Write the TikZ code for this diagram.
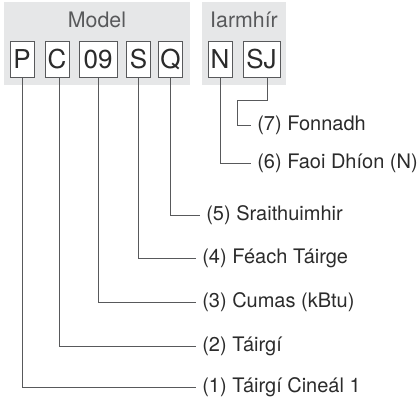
\documentclass[tikz,border=0pt]{standalone}
\usepackage{fontspec}
\setmainfont{TeX Gyre Heros}
\definecolor{panel}{HTML}{E6E7E8}
\definecolor{ink}{HTML}{2B2B2B}
\definecolor{wire}{HTML}{58595B}
\tikzset{
  panelbox/.style={fill=panel, draw=none},
  codebox/.style={draw=wire, fill=white, line width=0.7pt, minimum height=27pt, minimum width=18pt, inner sep=0pt, text=ink, font=\fontsize{19.5}{21}\selectfont},
  title/.style={text=wire, font=\fontsize{16}{18}\selectfont},
  leader/.style={draw=wire, line width=0.6pt},
  tag/.style={anchor=west, inner sep=0pt, inner xsep=4.5pt, text=ink, font=\fontsize{15}{18}\selectfont}
}
\begin{document}
\begin{tikzpicture}[x=0.75pt,y=-0.75pt]
			\useasboundingbox (0,0) rectangle (420,398);
			% grey panels
			\fill[panelbox] (4,2) rectangle (190,85);
			\fill[panelbox] (202,2) rectangle (286,85);
			\node[title] (tModel) at (97,20) {Model};
			\node[title] (tIarm) at (244,20) {Iarmhír};
			% code boxes
			\node[codebox] (bP) at (22,59) {P};
			\node[codebox] (bC) at (57,59) {C};
			\node[codebox, minimum width=28.5pt] (b09) at (98,59) {09};
			\node[codebox] (bS) at (138.5,59) {S};
			\node[codebox] (bQ) at (170.5,59) {Q};
			\node[codebox] (bN) at (220,59) {N};
			\node[codebox, minimum width=27.75pt] (bSJ) at (261.5,59) {SJ};
			% labels
			\node[tag] (l7) at (251,125) {(7) Fonnadh};
			\node[tag] (l6) at (251,163) {(6) Faoi Dhíon (N)};
			\node[tag] (l5) at (200,215) {(5) Sraithuimhir};
			\node[tag] (l4) at (196,258) {(4) Féach Táirge};
			\node[tag] (l3) at (196,302) {(3) Cumas (kBtu)};
			\node[tag] (l2) at (196,346) {(2) Táirgí};
			\node[tag] (l1) at (196,387) {(1) Táirgí Cineál 1};
			% leaders
			\coordinate (k7) at (237,100);
			\draw[leader] (bSJ.south -| 267,0) |- (k7) |- (l7.west);
			\draw[leader] (bN.south) |- (l6.west);
			\draw[leader] (bQ.south) |- (l5.west);
			\draw[leader] (bS.south) |- (l4.west);
			\draw[leader] (b09.south) |- (l3.west);
			\draw[leader] (bC.south -| 59.5,0) |- (l2.west);
			\draw[leader] (bP.south) |- (l1.west);

		\end{tikzpicture}
\end{document}
